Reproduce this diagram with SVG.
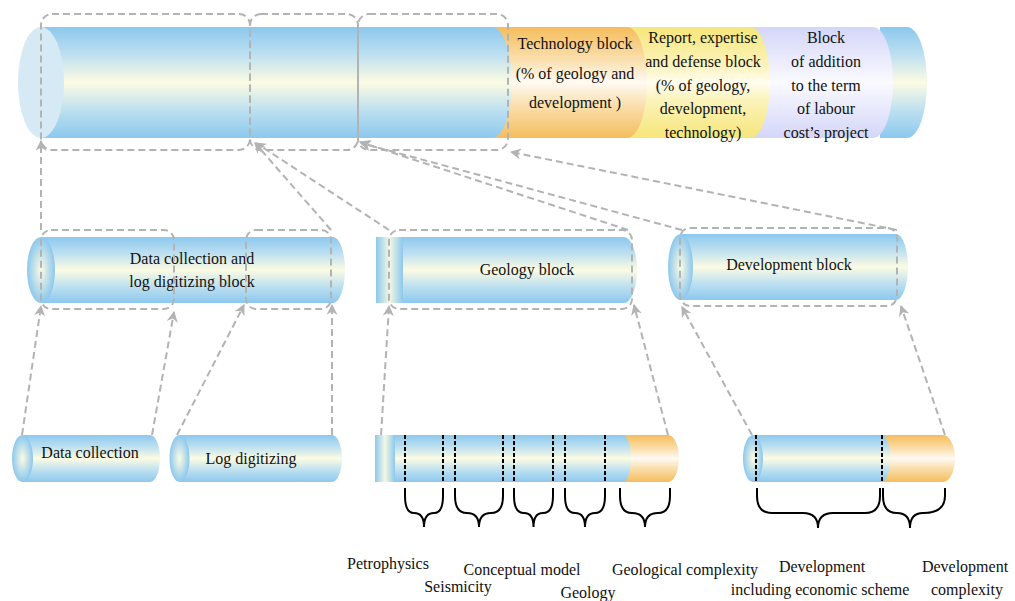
<svg xmlns="http://www.w3.org/2000/svg" width="1015" height="601" viewBox="0 0 1015 601">
<style>
.t{font-family:"Liberation Serif","Times New Roman",serif;font-size:16px;fill:#111;text-anchor:middle}
.box{fill:none;stroke:#b3b3b3;stroke-width:2;stroke-dasharray:7 4}
.con{fill:none;stroke:#b3b3b3;stroke-width:2;stroke-dasharray:7 4;marker-end:url(#ah)}
.cut{stroke:#000;stroke-width:2;stroke-dasharray:4 2}
.br{fill:none;stroke:#000;stroke-width:2}
.blue{fill:url(#gBlue)}
.orange{fill:url(#gOrange)}
</style>
<defs>
<linearGradient id="gBlue" x1="0" y1="0" x2="0" y2="1">
<stop offset="0" stop-color="#8cc8ee"/>
<stop offset="0.25" stop-color="#bde0f0"/>
<stop offset="0.5" stop-color="#fcfbe3"/>
<stop offset="0.75" stop-color="#bde0f0"/>
<stop offset="1" stop-color="#8cc8ee"/>
</linearGradient>
<linearGradient id="gOrange" x1="0" y1="0" x2="0" y2="1">
<stop offset="0" stop-color="#f5bd5c"/>
<stop offset="0.3" stop-color="#fae0b0"/>
<stop offset="0.5" stop-color="#fffaf2"/>
<stop offset="0.7" stop-color="#fae0b0"/>
<stop offset="1" stop-color="#f5bd5c"/>
</linearGradient>
<linearGradient id="gYellow" x1="0" y1="0" x2="0" y2="1">
<stop offset="0" stop-color="#f7e67a"/>
<stop offset="0.35" stop-color="#fbf3bc"/>
<stop offset="0.5" stop-color="#fffdf0"/>
<stop offset="0.65" stop-color="#fbf3bc"/>
<stop offset="1" stop-color="#f7e67a"/>
</linearGradient>
<linearGradient id="gLav" x1="0" y1="0" x2="0" y2="1">
<stop offset="0" stop-color="#d4d6f8"/>
<stop offset="0.5" stop-color="#fafaff"/>
<stop offset="1" stop-color="#d4d6f8"/>
</linearGradient>
<radialGradient id="gCap" cx="0.5" cy="0.5" r="0.5">
<stop offset="0" stop-color="#fcfbe3"/>
<stop offset="1" stop-color="#8cc8ee"/>
</radialGradient>
<linearGradient id="gEnd" x1="0" y1="0" x2="1" y2="0">
<stop offset="0" stop-color="#8cc8ee"/>
<stop offset="0.5" stop-color="#f4f8e4"/>
<stop offset="1" stop-color="#8cc8ee"/>
</linearGradient>
<marker id="ah" viewBox="0 0 10 10" refX="9" refY="5" markerWidth="11" markerHeight="11" markerUnits="userSpaceOnUse" orient="auto">
<path d="M0,0 L10,5 L0,10 L3,5 Z" fill="#b3b3b3"/>
</marker>
</defs>

<g id="top-cylinder">
<path d="M880,27 H907 A20 55.5 0 0 1 907,138 H880 Z" class="blue"/>
<path d="M740,27 H873 A20 55.5 0 0 1 873,138 H740 Z" fill="url(#gLav)"/>
<path d="M620,27 H750 A20 55.5 0 0 1 750,138 H620 Z" fill="url(#gYellow)"/>
<path d="M480,27 H627 A20 55.5 0 0 1 627,138 H480 Z" class="orange"/>
<path d="M41,27 H492 A20 55.5 0 0 1 492,138 H41 Z" class="blue"/>
<ellipse cx="41" cy="82.5" rx="23" ry="55.5" fill="#d6eaf6"/>
<text class="t" x="575" y="49">Technology block</text>
<text class="t" x="575" y="79">(% of geology and</text>
<text class="t" x="575" y="108">development )</text>
<text class="t" x="703" y="43">Report, expertise</text>
<text class="t" x="703" y="67">and defense block</text>
<text class="t" x="703" y="91">(% of geology,</text>
<text class="t" x="703" y="114">development,</text>
<text class="t" x="703" y="138">technology)</text>
<text class="t" x="826" y="43">Block</text>
<text class="t" x="826" y="67">of addition</text>
<text class="t" x="826" y="91">to the term</text>
<text class="t" x="826" y="114">of labour</text>
<text class="t" x="826" y="138">cost’s project</text>
<rect class="box" x="41" y="14" width="209" height="136" rx="11"/>
<rect class="box" x="250" y="14" width="108" height="136" rx="11"/>
<rect class="box" x="358" y="14" width="150" height="136" rx="11"/>
</g>

<g id="data-log-block">
<path d="M41,237 H333 A12 33 0 0 1 333,303 H41 Z" class="blue"/>
<ellipse cx="41" cy="270" rx="14" ry="33" fill="url(#gCap)"/>
<text class="t" x="192" y="264">Data collection and</text>
<text class="t" x="192" y="287">log digitizing block</text>
<rect class="box" x="41" y="230" width="133" height="79" rx="10"/>
<rect class="box" x="246" y="230" width="85" height="79" rx="10"/>
</g>

<g id="geology-block">
<path d="M400,237 H624 A13 33 0 0 1 624,303 H400 Z" class="blue"/>
<rect x="376" y="237" width="27" height="66" fill="url(#gEnd)"/>
<text class="t" x="527" y="275">Geology block</text>
<rect class="box" x="389" y="230" width="243" height="79" rx="10"/>
</g>

<g id="development-block">
<path d="M680,234 H896 A12 33 0 0 1 896,300 H680 Z" class="blue"/>
<ellipse cx="680.5" cy="267" rx="12.5" ry="33" fill="url(#gCap)"/>
<text class="t" x="789" y="270">Development block</text>
<rect class="box" x="680" y="228" width="217" height="78" rx="10"/>
</g>

<g id="data-collection">
<path d="M22,435 H150 A10 23.5 0 0 1 150,482 H22 Z" class="blue"/>
<ellipse cx="22.5" cy="458.5" rx="10.5" ry="23.5" fill="url(#gCap)"/>
<text class="t" x="90" y="458">Data collection</text>
</g>

<g id="log-digitizing">
<path d="M180,435 H332 A10 23.5 0 0 1 332,482 H180 Z" class="blue"/>
<ellipse cx="179.5" cy="458.5" rx="10" ry="23.5" fill="url(#gCap)"/>
<text class="t" x="251" y="464">Log digitizing</text>
</g>

<g id="geology-parts">
<path d="M620,435 H668 A11 23.5 0 0 1 668,482 H620 Z" class="orange"/>
<path d="M392,435 H623 A8 23.5 0 0 1 623,482 H392 Z" class="blue"/>
<rect x="375" y="435" width="20" height="47" fill="url(#gEnd)"/>
<line class="cut" x1="405" y1="435" x2="405" y2="482"/>
<line class="cut" x1="443" y1="435" x2="443" y2="482"/>
<line class="cut" x1="455" y1="435" x2="455" y2="482"/>
<line class="cut" x1="503" y1="435" x2="503" y2="482"/>
<line class="cut" x1="514" y1="435" x2="514" y2="482"/>
<line class="cut" x1="553" y1="435" x2="553" y2="482"/>
<line class="cut" x1="565" y1="435" x2="565" y2="482"/>
<line class="cut" x1="605" y1="435" x2="605" y2="482"/>
<path class="br" d="M405,488 V496 Q405,513 414,513 Q424,513 424,527 Q424,513 434,513 Q443,513 443,496 V488"/>
<path class="br" d="M455,488 V496 Q455,513 467,513 Q479,513 479,527 Q479,513 491,513 Q503,513 503,496 V488"/>
<path class="br" d="M514,488 V496 Q514,513 524,513 Q533.5,513 533.5,527 Q533.5,513 543,513 Q553,513 553,496 V488"/>
<path class="br" d="M565,488 V496 Q565,513 575,513 Q585,513 585,527 Q585,513 595,513 Q605,513 605,496 V488"/>
<path class="br" d="M620,488 V496 Q620,513 632,513 Q645,513 645,527 Q645,513 658,513 Q670,513 670,496 V488"/>
<text class="t" x="388" y="569">Petrophysics</text>
<text class="t" x="458" y="592">Seismicity</text>
<text class="t" x="522" y="575">Conceptual model</text>
<text class="t" x="588" y="598">Geology</text>
<text class="t" x="685" y="575">Geological complexity</text>
</g>

<g id="development-parts">
<path d="M880,435 H943 A12 23.5 0 0 1 943,482 H880 Z" class="orange"/>
<path d="M753,435 H882 A8 23.5 0 0 1 882,482 H753 Z" class="blue"/>
<ellipse cx="753" cy="458.5" rx="10" ry="23.5" fill="url(#gCap)"/>
<line class="cut" x1="756" y1="435" x2="756" y2="482"/>
<line class="cut" x1="882" y1="435" x2="882" y2="482"/>
<path class="br" d="M757,488 V496 Q757,513 772,513 H803 Q818,513 818,528 Q818,513 833,513 H865 Q880,513 880,496 V488"/>
<path class="br" d="M883,488 V496 Q883,513 897,513 Q910,513 910,528 Q910,513 923,513 Q945,513 945,496 V488"/>
<text class="t" x="822" y="572">Development</text>
<text class="t" x="820" y="595">including economic scheme</text>
<text class="t" x="965" y="572">Development</text>
<text class="t" x="967" y="595">complexity</text>
</g>

<g id="connectors">
<path class="con" d="M41,230 L41,141"/>
<path class="con" d="M331,230 L255,143"/>
<path class="con" d="M389,230 L256,143"/>
<path class="con" d="M628,230 L360,142"/>
<path class="con" d="M682,230 L361,143"/>
<path class="con" d="M897,230 L511,152"/>
<path class="con" d="M22,435 L41,306"/>
<path class="con" d="M152,435 L174,312"/>
<path class="con" d="M177,435 L244,305"/>
<path class="con" d="M332,435 L332,305"/>
<path class="con" d="M381,435 L389,306"/>
<path class="con" d="M668,435 L634,305"/>
<path class="con" d="M752,435 L682,307"/>
<path class="con" d="M945,435 L901,306"/>
</g>
</svg>
